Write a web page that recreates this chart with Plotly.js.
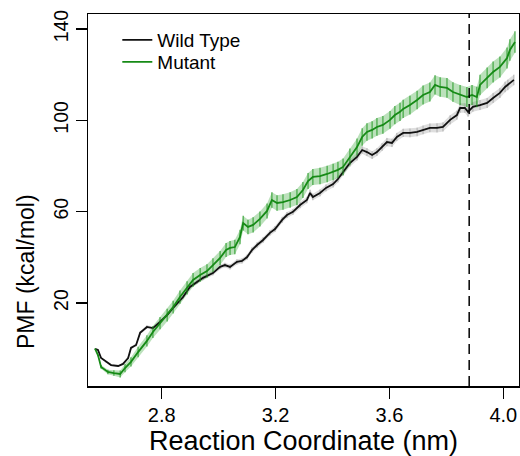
<!DOCTYPE html>
<html><head><meta charset="utf-8">
<script src="https://cdn.plot.ly/plotly-3.0.1.min.js"></script>
<style>html,body{margin:0;padding:0;background:#fff}#chart{width:520px;height:456px}</style>
</head><body><div id="chart"></div>
<script>
// Wild Type PMF profile
const wtX = [2.566,2.576,2.587,2.604,2.622,2.647,2.664,2.682,2.692,2.710,
  2.724,2.748,2.769,2.794,2.819,2.840,2.875,2.899,2.924,2.945,
  2.980,3.005,3.022,3.040,3.064,3.082,3.100,3.117,3.135,3.156,
  3.180,3.198,3.223,3.240,3.261,3.286,3.310,3.321,3.331,3.356,
  3.377,3.402,3.419,3.437,3.461,3.486,3.504,3.521,3.539,3.556,
  3.574,3.591,3.609,3.626,3.648,3.672,3.697,3.718,3.742,3.767,
  3.788,3.813,3.837,3.848,3.865,3.876,3.893,3.918,3.943,3.964,
  3.988,4.006,4.016,4.037];
const wtY = [-0.1,-0.6,-4.1,-5.8,-7.2,-7.6,-6.7,-4.1,0.3,1.6,
  6.9,9.5,9.0,11.7,14.7,17.8,22.6,27.0,29.2,31.0,
  33.1,35.8,36.6,35.8,38.0,38.4,40.1,43.2,45.4,47.6,
  50.7,52.4,56.4,58.5,59.9,62.9,65.1,68.2,66.4,68.2,
  70.4,72.1,74.3,77.4,81.3,84.0,87.0,86.1,84.8,86.1,
  88.3,90.5,90.1,92.7,94.5,94.5,94.9,95.8,96.7,96.7,
  97.1,100.2,102.3,105.4,105.4,103.7,105.9,106.7,107.6,109.8,
  112.0,114.6,115.5,117.7];
const wtErr = [0.2,0.2,0.3,0.3,0.4,0.4,0.5,0.5,0.6,0.6,
  0.7,0.7,0.7,0.8,0.8,0.8,0.9,0.9,0.9,1.0,
  1.0,1.0,1.0,1.1,1.1,1.1,1.1,1.2,1.2,1.2,
  1.2,1.3,1.3,1.3,1.3,1.4,1.4,1.4,1.4,1.5,
  1.5,1.5,1.5,1.6,1.6,1.6,1.6,1.7,1.7,1.7,
  1.7,1.8,1.8,1.8,1.8,1.9,1.9,1.9,1.9,2.0,
  2.0,2.0,2.0,2.1,2.1,2.1,2.1,2.2,2.2,2.2,
  2.2,2.3,2.3,2.3];

// Mutant PMF profile
const mutX = [2.566,2.576,2.587,2.611,2.632,2.654,2.671,2.692,2.717,2.748,
  2.769,2.794,2.819,2.840,2.864,2.889,2.910,2.935,2.959,2.980,
  3.005,3.026,3.040,3.057,3.075,3.086,3.103,3.121,3.145,3.170,
  3.187,3.205,3.226,3.251,3.275,3.296,3.314,3.331,3.356,3.381,
  3.402,3.419,3.437,3.461,3.486,3.504,3.521,3.539,3.556,3.577,
  3.602,3.619,3.637,3.648,3.672,3.697,3.718,3.742,3.760,3.778,
  3.802,3.823,3.848,3.872,3.890,3.907,3.918,3.943,3.964,3.988,
  4.013,4.023,4.041];
const mutY = [-0.1,-2.8,-8.0,-10.2,-10.7,-11.1,-8.5,-5.8,-1.5,3.4,
  7.3,11.2,14.7,18.2,22.6,26.6,30.1,32.3,34.0,36.6,
  39.7,43.2,44.1,44.5,48.9,55.0,53.3,54.2,56.8,60.3,
  65.1,63.8,64.2,65.1,66.4,69.5,73.4,75.2,75.6,76.5,
  77.4,78.3,79.6,84.0,88.3,92.7,94.9,95.8,97.1,98.0,
  100.2,102.3,103.7,105.0,106.7,108.9,111.1,112.4,115.5,114.6,
  114.2,112.4,111.1,110.2,111.1,110.2,115.5,118.6,121.2,123.4,
  127.3,130.8,134.3];
const mutErr = [0.3,0.5,0.8,1.0,1.2,1.5,1.8,2.0,2.3,2.5,
  2.6,2.7,2.8,2.8,2.9,2.9,3.0,3.0,3.0,3.0,
  3.1,3.1,3.1,3.2,3.2,3.2,3.2,3.3,3.3,3.3,
  3.4,3.4,3.4,3.4,3.5,3.5,3.5,3.5,3.6,3.6,
  3.6,3.6,3.7,3.7,3.7,3.8,3.8,3.8,3.9,3.9,
  3.9,4.0,4.0,4.0,4.1,4.1,4.2,4.2,4.2,4.3,
  4.3,4.3,4.4,4.4,4.4,4.5,4.5,4.5,4.6,4.6,
  4.6,4.7,4.7];

const seriesNames = ['Wild Type', 'Mutant'];
const xTicks = [2.8, 3.2, 3.6, 4.0];
const xTickLabels = ['2.8', '3.2', '3.6', '4.0'];
const yTicks = [20, 60, 100, 140];
const yTickLabels = ['20', '60', '100', '140'];
const markerX = 3.88;
const xTitle = 'Reaction Coordinate (nm)';
const yTitle = 'PMF (kcal/mol)';

function band(x, y, e, color) {
  const up = y.map((v, i) => v + e[i]);
  const lo = y.map((v, i) => v - e[i]);
  return {
    x: x.concat(x.slice().reverse()),
    y: up.concat(lo.slice().reverse()),
    type: 'scatter', mode: 'lines', fill: 'toself',
    fillcolor: color, line: {width: 0}, hoverinfo: 'skip', showlegend: false
  };
}

const FONT = 'Liberation Sans, Arial, Helvetica, sans-serif';

const traces = [
  band(wtX, wtY, wtErr, 'rgba(190,190,190,0.5)'),
  band(mutX, mutY, mutErr, 'rgba(60,170,60,0.35)'),
  {
    x: wtX, y: wtY, name: seriesNames[0], type: 'scatter', mode: 'lines',
    legend: 'legend',
    line: {color: '#111111', width: 1.8},
    error_y: {type: 'data', array: wtErr, visible: true, width: 0, thickness: 1, color: 'rgba(165,165,165,0.85)'}
  },
  {
    x: mutX, y: mutY, name: seriesNames[1], type: 'scatter', mode: 'lines',
    legend: 'legend2',
    line: {color: '#168a16', width: 1.8},
    error_y: {type: 'data', array: mutErr, visible: true, width: 0, thickness: 1.1, color: 'rgba(30,150,30,0.85)'}
  }
];

const legendBase = {xanchor: 'left', yanchor: 'middle', bgcolor: 'rgba(0,0,0,0)',
  borderwidth: 0, font: {size: 19, family: FONT}};

const layout = {
  width: 520, height: 456,
  margin: {l: 88, r: 1, t: 14, b: 70},
  paper_bgcolor: '#fff', plot_bgcolor: '#fff',
  font: {family: FONT, color: '#000'},
  showlegend: true,
  legend: Object.assign({x: 0.068, y: 0.930}, legendBase),
  legend2: Object.assign({x: 0.068, y: 0.871}, legendBase),
  xaxis: {
    range: [2.541, 4.055], tickvals: xTicks, ticktext: xTickLabels,
    showgrid: false, zeroline: false, showline: true, mirror: true,
    linecolor: '#000', linewidth: 1.5, ticks: 'outside', ticklen: 11,
    tickwidth: 1.2, tickcolor: '#000', tickfont: {size: 20, family: FONT},
    ticklabelstandoff: -1,
    title: {text: xTitle, font: {size: 27, family: FONT}, standoff: 8}
  },
  yaxis: {
    range: [-16.36, 146.57], tickvals: yTicks, ticktext: yTickLabels, tickangle: -90,
    showgrid: false, zeroline: false, showline: true, mirror: true,
    linecolor: '#000', linewidth: 1.5, ticks: 'outside', ticklen: 11,
    tickwidth: 1.2, tickcolor: '#000', tickfont: {size: 19.5, family: FONT}
  },
  annotations: [{
    text: yTitle, textangle: -90, showarrow: false,
    xref: 'paper', yref: 'paper', x: -0.144, y: 0.309,
    xanchor: 'center', yanchor: 'middle',
    font: {size: 23, family: FONT, color: '#000'}
  }],
  shapes: [{
    type: 'line', xref: 'x', yref: 'paper', x0: markerX, x1: markerX, y0: 0, y1: 1,
    line: {color: '#000', width: 1.5, dash: '10px,6px'}
  }]
};

Plotly.newPlot('chart', traces, layout, {displayModeBar: false, staticPlot: true});
</script>
</body></html>
